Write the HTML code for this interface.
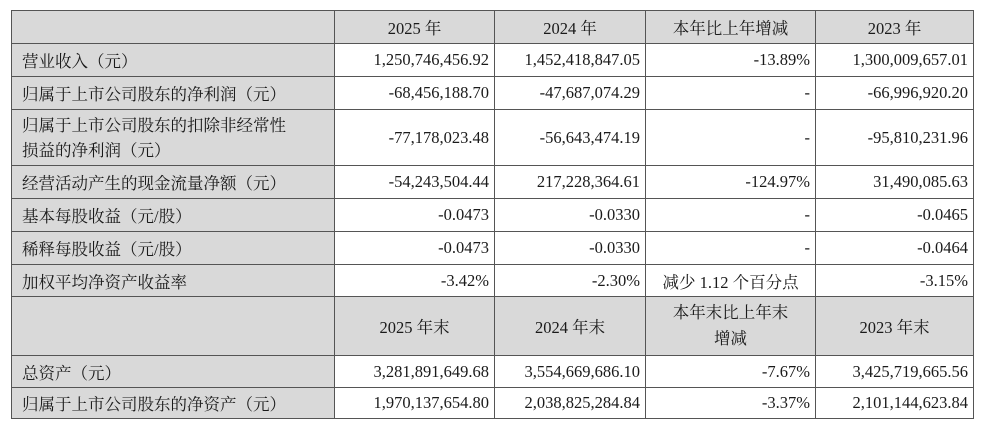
<!DOCTYPE html>
<html><head><meta charset="utf-8"><style>
html,body{margin:0;padding:0;background:#fff;width:984px;height:424px;overflow:hidden}
table{position:absolute;left:11px;top:10px;border-collapse:collapse;font-family:"Liberation Serif","Noto Serif CJK SC","Noto Sans CJK SC",serif;font-size:16.5px;color:#1a1a1a;table-layout:fixed}
td{border:1.5px solid #555;padding:0 5px;white-space:nowrap;overflow:hidden}
td.l{background:#d9d9d9;text-align:left;padding-left:10px}
td.h{background:#d9d9d9;text-align:center}
td.n{text-align:right}
</style></head><body>
<table>
<colgroup><col style="width:323px"><col style="width:160px"><col style="width:151px"><col style="width:170px"><col style="width:158px"></colgroup>
<tr style="height:33px"><td class="l"></td><td class="h">2025 年</td><td class="h">2024 年</td><td class="h">本年比上年增减</td><td class="h">2023 年</td></tr>
<tr style="height:33px"><td class="l">营业收入（元）</td><td class="n">1,250,746,456.92</td><td class="n">1,452,418,847.05</td><td class="n">-13.89%</td><td class="n">1,300,009,657.01</td></tr>
<tr style="height:33px"><td class="l">归属于上市公司股东的净利润（元）</td><td class="n">-68,456,188.70</td><td class="n">-47,687,074.29</td><td class="n">-</td><td class="n">-66,996,920.20</td></tr>
<tr style="height:56px"><td class="l" style="line-height:25px">归属于上市公司股东的扣除非经常性<br>损益的净利润（元）</td><td class="n">-77,178,023.48</td><td class="n">-56,643,474.19</td><td class="n">-</td><td class="n">-95,810,231.96</td></tr>
<tr style="height:33px"><td class="l">经营活动产生的现金流量净额（元）</td><td class="n">-54,243,504.44</td><td class="n">217,228,364.61</td><td class="n">-124.97%</td><td class="n">31,490,085.63</td></tr>
<tr style="height:33px"><td class="l">基本每股收益（元/股）</td><td class="n">-0.0473</td><td class="n">-0.0330</td><td class="n">-</td><td class="n">-0.0465</td></tr>
<tr style="height:33px"><td class="l">稀释每股收益（元/股）</td><td class="n">-0.0473</td><td class="n">-0.0330</td><td class="n">-</td><td class="n">-0.0464</td></tr>
<tr style="height:32px"><td class="l">加权平均净资产收益率</td><td class="n">-3.42%</td><td class="n">-2.30%</td><td class="h" style="background:#fff">减少 1.12 个百分点</td><td class="n">-3.15%</td></tr>
<tr style="height:59px"><td class="l"></td><td class="h">2025 年末</td><td class="h">2024 年末</td><td class="h" style="line-height:26px">本年末比上年末<br>增减</td><td class="h">2023 年末</td></tr>
<tr style="height:32px"><td class="l">总资产（元）</td><td class="n">3,281,891,649.68</td><td class="n">3,554,669,686.10</td><td class="n">-7.67%</td><td class="n">3,425,719,665.56</td></tr>
<tr style="height:31px"><td class="l">归属于上市公司股东的净资产（元）</td><td class="n">1,970,137,654.80</td><td class="n">2,038,825,284.84</td><td class="n">-3.37%</td><td class="n">2,101,144,623.84</td></tr>
</table>
</body></html>
